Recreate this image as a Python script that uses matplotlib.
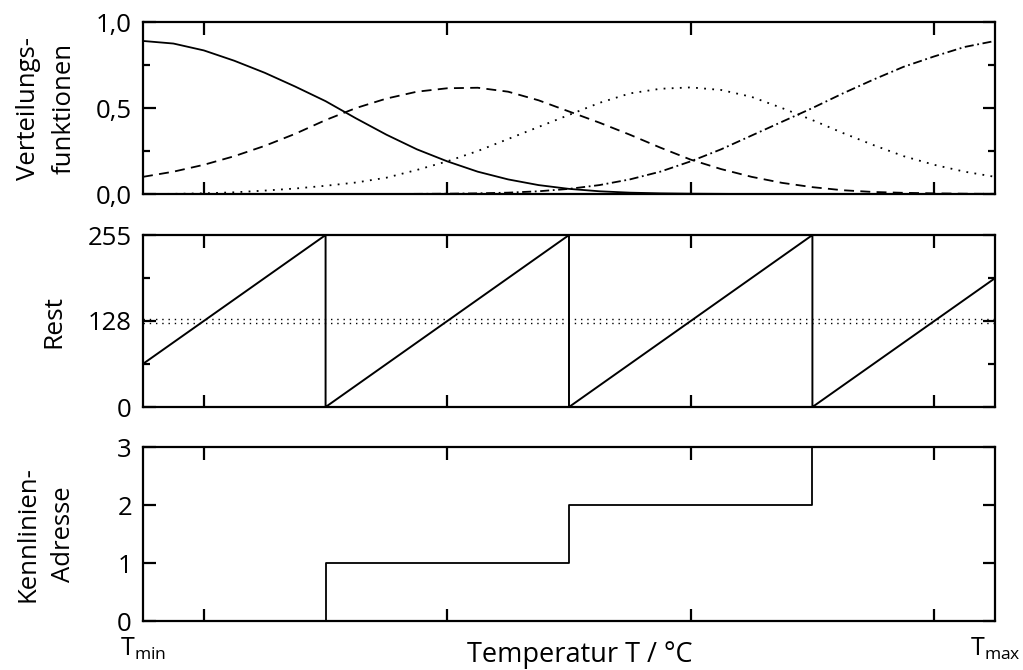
# plot.py
# Verteilungsfunktionen / Rest / Kennlinien-Adresse ueber der Temperatur

import matplotlib.pyplot as plt
from matplotlib.ticker import FixedLocator

plt.rcParams['font.family'] = ['Open Sans', 'DejaVu Sans']

# -------------------------
# Data (temperature normalised: Tmin = 0, Tmax = 3.5)
# -------------------------
t_grid = [0.0, 0.125, 0.25, 0.375, 0.5, 0.625, 0.75, 0.875, 1.0, 1.125,
          1.25, 1.375, 1.5, 1.625, 1.75, 1.875, 2.0, 2.125, 2.25, 2.375,
          2.5, 2.625, 2.75, 2.875, 3.0, 3.125, 3.25, 3.375, 3.5]

vf_solid = [0.89, 0.875, 0.835, 0.775, 0.705, 0.625, 0.54, 0.44, 0.345, 0.26,
            0.19, 0.13, 0.085, 0.052, 0.03, 0.016, 0.008, 0.004, 0.002, 0.001,
            0.0, 0.0, 0.0, 0.0, 0.0, 0.0, 0.0, 0.0, 0.0]
vf_dashed = [0.10, 0.13, 0.17, 0.22, 0.28, 0.35, 0.43, 0.50, 0.555, 0.595,
             0.615, 0.618, 0.595, 0.545, 0.48, 0.415, 0.345, 0.27, 0.20, 0.145,
             0.10, 0.065, 0.04, 0.022, 0.012, 0.007, 0.004, 0.002, 0.001]
vf_dotted = [0.0, 0.001, 0.004, 0.01, 0.02, 0.032, 0.048, 0.067, 0.095, 0.14,
             0.19, 0.25, 0.32, 0.39, 0.46, 0.53, 0.585, 0.612, 0.62, 0.605,
             0.565, 0.50, 0.43, 0.355, 0.285, 0.22, 0.17, 0.13, 0.10]
vf_dashdot = [0.0, 0.0, 0.0, 0.0, 0.0, 0.0, 0.0, 0.0, 0.0, 0.001,
              0.002, 0.004, 0.008, 0.016, 0.03, 0.052, 0.085, 0.13, 0.19, 0.26,
              0.34, 0.42, 0.50, 0.585, 0.665, 0.74, 0.80, 0.855, 0.89]

# sawtooth "Rest" (vertices)
rest_t = [0.0, 0.75, 0.75, 1.75, 1.75, 2.75, 2.75, 3.5]
rest_val = [64, 255, 0, 255, 0, 255, 0, 191]
rest_band = [125, 131]

# step "Kennlinien-Adresse"
addr_t = [0.0, 0.75, 1.75, 2.75, 3.5]
addr_val = [0, 1, 2, 3, 3]

x_ticks = [0.25, 1.25, 2.25, 3.25]
x_edges = [0.0, 3.5]
x_edge_labels = [r'T$_{\mathregular{min}}$', r'T$_{\mathregular{max}}$']

# -------------------------
# Figure
# -------------------------
fig = plt.figure(figsize=(10.23, 6.70), dpi=100)
ax1 = fig.add_axes([0.1398, 0.7104, 0.8328, 0.2567])
ax2 = fig.add_axes([0.1398, 0.3925, 0.8328, 0.2567])
ax3 = fig.add_axes([0.1398, 0.0731, 0.8328, 0.2597])

lw = 1.3
ax1.plot(t_grid, vf_solid, color='black', lw=lw)
ax1.plot(t_grid, vf_dashed, color='black', lw=lw, dashes=(5.5, 3.5))
ax1.plot(t_grid, vf_dotted, color='black', lw=lw, dashes=(1, 3.5))
ax1.plot(t_grid, vf_dashdot, color='black', lw=lw, dashes=(5, 2, 1, 2))

ax2.plot(rest_t, rest_val, color='black', lw=1.4)
for v in rest_band:
    ax2.axhline(v, color='black', lw=1.0, dashes=(1, 3.5))

ax3.step(addr_t, addr_val, where='post', color='black', lw=1.3, clip_on=False)

# -------------------------
# Axes styling
# -------------------------
for ax in (ax1, ax2, ax3):
    ax.set_xlim(0, 3.5)
    for s in ax.spines.values():
        s.set_linewidth(1.6)
    ax.xaxis.set_major_locator(FixedLocator(x_ticks))
    ax.tick_params(which='both', direction='in', top=True, right=True,
                   width=1.6, labelsize=18.5, pad=8)
    ax.tick_params(which='major', length=9)
    ax.tick_params(which='minor', length=5)
    ax.tick_params(axis='x', labelbottom=False)

ax1.set_ylim(0, 1)
ax1.set_yticks([0, 0.5, 1.0])
ax1.set_yticklabels(['0,0', '0,5', '1,0'])
ax1.set_yticks([0.25, 0.75], minor=True)

ax2.set_ylim(0, 255)
ax2.set_yticks([0, 128, 255])
ax2.set_yticks([64, 191], minor=True)

ax3.set_ylim(0, 3)
ax3.set_yticks([0, 1, 2, 3])

# Tmin / Tmax labels at the edges of the bottom axis
for x, lab in zip(x_edges, x_edge_labels):
    ax3.text(x, -0.085, lab, transform=ax3.get_xaxis_transform(),
             ha='center', va='top', fontsize=18)

ax3.set_xlabel('Temperatur T / °C', fontsize=19.5)
ax3.xaxis.set_label_coords(0.513, -0.115)
ax3.xaxis.label.set_va('top')

ax1.set_ylabel('Verteilungs-\nfunktionen', fontsize=18.5, linespacing=1.55)
ax2.set_ylabel('Rest', fontsize=19)
ax3.set_ylabel('Kennlinien-\nAdresse', fontsize=18.5, linespacing=1.55)
ax1.yaxis.set_label_coords(-0.078, 0.5)
ax2.yaxis.set_label_coords(-0.09, 0.5)
ax3.yaxis.set_label_coords(-0.079, 0.5)

fig.savefig('out.png', dpi=100)
